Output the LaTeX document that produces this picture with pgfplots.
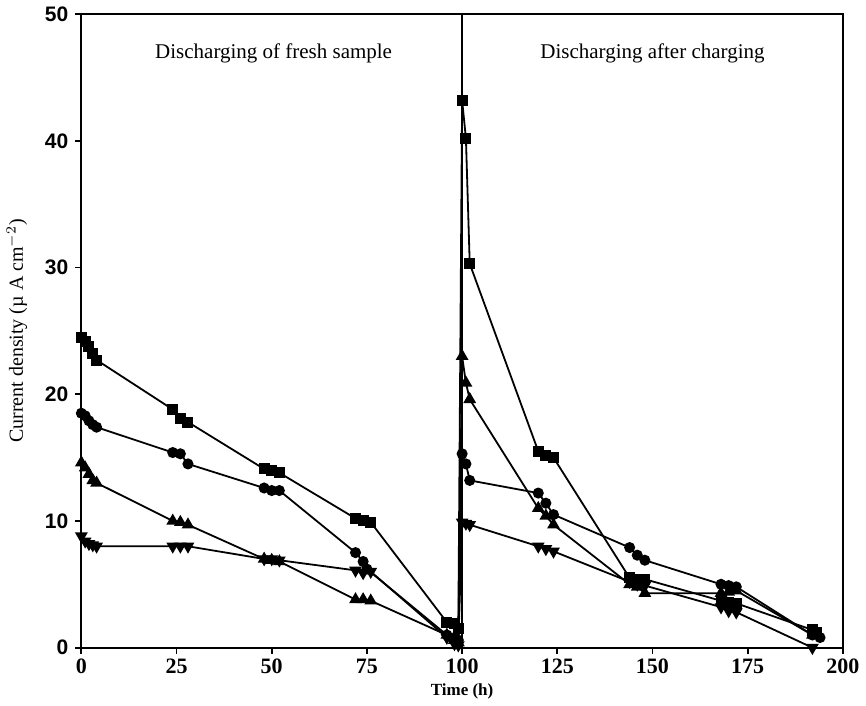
\documentclass[border=0pt]{standalone}
\usepackage{fontspec}
\setmainfont{Liberation Serif}
\newfontfamily\sansfont{Liberation Sans}
\usepackage{pgfplots}
\pgfplotsset{compat=1.18}

\begin{document}
\begin{tikzpicture}
\begin{axis}[
    scale only axis,
    width=381pt, height=317pt,
    xmin=0, xmax=200, ymin=0, ymax=50,
    xtick={0,25,...,200}, ytick={0,10,...,50},
    tick align=outside, xtick pos=left, ytick pos=left,
    major tick length=3pt,
    axis line style={line width=1.1pt},
    every tick/.style={black, line width=0.9pt},
    /pgf/number format/assume math mode=true,
    xticklabel style={font=\bfseries\fontsize{11}{13}\selectfont, yshift=1pt},
    yticklabel style={font=\sansfont\bfseries\fontsize{10.5}{12}\selectfont},
    xlabel={\textbf{Time (h)}},
    xlabel style={font=\fontsize{8.5}{10}\selectfont, yshift=2pt},
    ylabel={Current density (\textmu{} A cm$^{-2}$)},
    ylabel style={font=\fontsize{10}{12}\selectfont, yshift=2pt},
    clip=false,
    every axis plot/.append style={black, line width=0.9pt, mark size=2.3pt},
]
% vertical separator
\addplot[black, line width=0.8pt, mark=none] coordinates {(100,0) (100,50)};

% squares
\addplot[mark=square*] coordinates {
(0,24.5)(1,24.2)(2,23.8)(3,23.2)(4,22.7)(24,18.8)(26,18.1)(28,17.8)
(48,14.1)(50,14.0)(52,13.8)(72,10.2)(74,10.0)(76,9.9)(96,2.0)(98,1.9)(99,1.5)
(100,43.2)(101,40.2)(102,30.3)(120,15.5)(122,15.2)(124,15.0)
(144,5.5)(146,5.4)(148,5.4)(168,3.7)(170,3.6)(172,3.5)(192,1.4)(193,1.2)};

% circles
\addplot[mark=*] coordinates {
(0,18.5)(1,18.3)(2,17.9)(3,17.6)(4,17.4)(24,15.4)(26,15.3)(28,14.5)
(48,12.6)(50,12.4)(52,12.4)(72,7.5)(74,6.8)(75,6.2)(96,1.0)(98,0.8)(99,0.6)
(100,15.3)(101,14.5)(102,13.2)(120,12.2)(122,11.4)(124,10.5)
(144,7.9)(146,7.3)(148,6.9)(168,5.0)(170,4.9)(172,4.8)(192,1.0)(194,0.8)};

% triangles up
\addplot[mark=triangle*, mark size=2.8pt] coordinates {
(0,14.6)(1,14.2)(2,13.7)(3,13.2)(4,13.0)(24,10.0)(26,9.9)(28,9.7)
(48,7.0)(50,6.9)(52,6.8)(72,3.8)(74,3.8)(76,3.7)(96,1.0)(98,0.6)(99,0.4)
(100,23.0)(101,20.9)(102,19.6)(120,11.0)(122,10.4)(124,9.7)
(144,5.0)(146,4.8)(148,4.3)(168,4.3)(170,4.4)(172,4.5)(192,1.0)};

% triangles down
\addplot[mark=triangle*, mark size=2.8pt, mark options={rotate=180}] coordinates {
(0,8.8)(1,8.4)(2,8.2)(3,8.1)(4,8.0)(24,8.0)(26,8.0)(28,8.0)
(48,7.0)(50,7.0)(52,6.9)(72,6.1)(74,5.9)(76,6.0)(96,0.8)(98,0.3)(99,0.2)
(100,9.9)(101,9.8)(102,9.7)(120,8.0)(122,7.8)(124,7.6)
(144,5.2)(146,5.0)(148,4.9)(168,3.2)(170,2.9)(172,2.8)(192,0.0)};

\node[font=\fontsize{10.5}{12}\selectfont] at (axis cs:50.5,46.9) {Discharging of fresh sample};
\node[font=\fontsize{10.5}{12}\selectfont] at (axis cs:150,46.9) {Discharging after charging};
\end{axis}
\end{tikzpicture}
\end{document}
